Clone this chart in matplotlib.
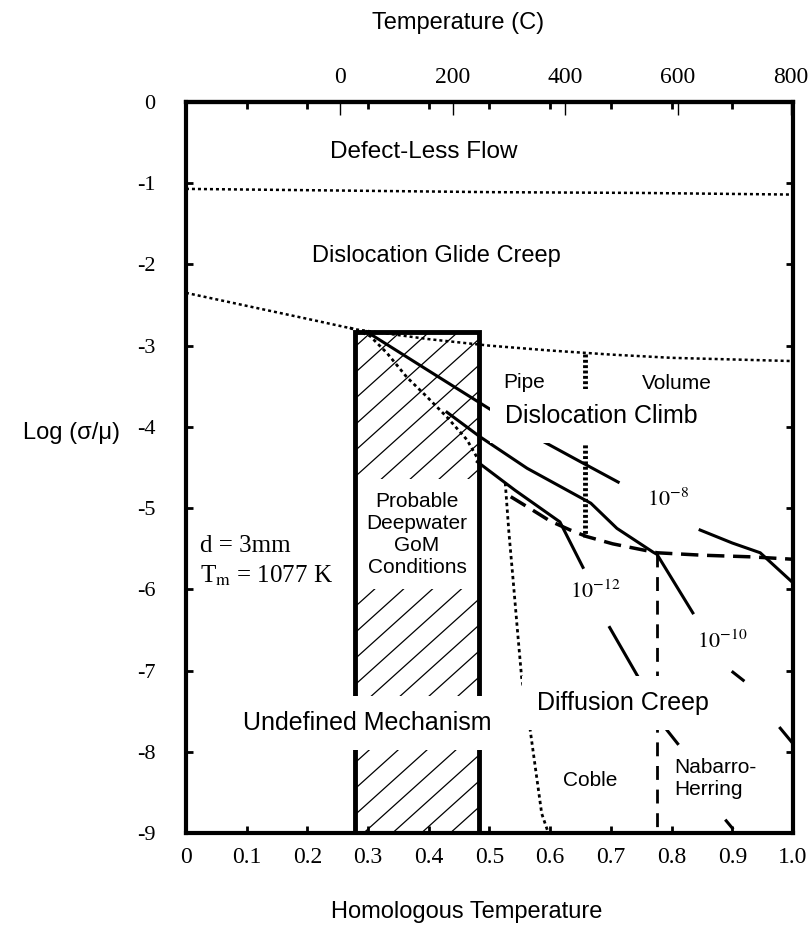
import numpy as np
import matplotlib.pyplot as plt
from matplotlib.patches import Rectangle

plt.rcParams['mathtext.fontset'] = 'stix'
SANS = 'Liberation Sans'
SERIF = 'Liberation Serif'
nan = np.nan

# field boundaries (homologous temperature, log normalised stress)
defect_x = [0.0, 0.25, 0.5, 0.75, 1.0]
defect_y = [-1.07, -1.09, -1.11, -1.12, -1.14]

glide_x = [0.0, 0.1, 0.2, 0.28, 0.4, 0.5, 0.6, 0.7, 0.8, 0.9, 1.0]
glide_y = [-2.35, -2.51, -2.67, -2.80, -2.92, -3.00, -3.06, -3.11, -3.15, -3.17, -3.19]

pipe_x = [0.657, 0.657]
pipe_y = [-3.10, -5.35]

climb_x = [0.535, 0.57, 0.60, 0.633, 0.66, 0.703, 0.736, 0.776, 0.85, 0.93, 1.0]
climb_y = [-4.86, -5.02, -5.16, -5.27, -5.35, -5.44, -5.49, -5.55, -5.58, -5.60, -5.63]

nh_x = [0.776, 0.776]
nh_y = [-5.55, -8.95]

coble_x = [0.526, 0.532, 0.539, 0.546, 0.553, 0.567, 0.586, 0.597]
coble_y = [-4.69, -5.30, -5.89, -6.50, -7.09, -7.73, -8.76, -9.0]

# strain-rate contours (1/s)
rate8_x = [0.298, 0.40, 0.496, 0.55, 0.591, 0.65, 0.712, nan, 0.847, 0.90, 0.946, 1.0]
rate8_y = [-2.83, -3.31, -3.76, -4.01, -4.19, -4.43, -4.68, nan, -5.27, -5.43, -5.55, -5.92]

rate10_x = [0.43, 0.484, 0.562, 0.667, 0.71, 0.769, 0.776, 0.835, nan, 0.901, 0.918, nan, 0.979, 1.0]
rate10_y = [-3.82, -4.12, -4.51, -4.94, -5.25, -5.54, -5.57, -6.29, nan, -7.02, -7.12, nan, -7.71, -7.90]

rate12_box_x = [0.27, 0.303, 0.331, 0.364, 0.397, 0.43, 0.463, 0.479]
rate12_box_y = [-2.78, -2.88, -3.09, -3.39, -3.63, -3.88, -4.16, -4.37]

rate12_x = [0.48, 0.542, 0.616, 0.654, nan, 0.698, 0.748, 0.792, 0.81, nan, 0.89, 0.90]
rate12_y = [-4.43, -4.78, -5.17, -5.73, nan, -6.47, -7.12, -7.73, -7.90, nan, -8.85, -8.94]

# deepwater GoM window
gom_x = (0.278, 0.483)
gom_top = -2.83

xticks = [0, 0.1, 0.2, 0.3, 0.4, 0.5, 0.6, 0.7, 0.8, 0.9, 1.0]
xtick_labels = ['0', '0.1', '0.2', '0.3', '0.4', '0.5', '0.6', '0.7', '0.8', '0.9', '1.0']
yticks = [0, -1, -2, -3, -4, -5, -6, -7, -8, -9]
ytick_labels = ['0', '-1', '-2', '-3', '-4', '-5', '-6', '-7', '-8', '-9']
temp_ticks = [0, 200, 400, 600, 800]
Tm = 1077

axpos = [0.2293, 0.1072, 0.7485, 0.7835]
fig = plt.figure(figsize=(8.11, 9.33), dpi=100)
ax = fig.add_axes(axpos)
ax.set_xlim(0, 1)
ax.set_ylim(-9, 0)

dot = (0, (1.2, 1.2))
ax.plot(defect_x, defect_y, color='k', lw=1.8, ls=dot, zorder=4)
ax.plot(glide_x, glide_y, color='k', lw=1.8, ls=dot, zorder=4)
ax.plot(pipe_x, pipe_y, color='k', lw=3.5, ls=(0, (0.6, 0.5)), zorder=4)
ax.plot(climb_x, climb_y, color='k', lw=2.5, ls=(0, (5, 2.5)), zorder=4)
ax.plot(nh_x, nh_y, color='k', lw=2.0, ls=(0, (5, 3.5)), zorder=4)
ax.plot(coble_x, coble_y, color='k', lw=2.0, ls=dot, zorder=4)

for cx, cy in [(rate8_x, rate8_y), (rate10_x, rate10_y), (rate12_x, rate12_y)]:
    ax.plot(cx, cy, color='k', lw=2.2, zorder=4)
ax.plot(rate12_box_x, rate12_box_y, color='k', lw=2.0, ls=dot, zorder=4)

# hatched window, hatch lines clipped to the box
w_px = fig.get_figwidth() * fig.dpi * axpos[2]
h_px = fig.get_figheight() * fig.dpi * axpos[3] / 9.0
bw = gom_x[1] - gom_x[0]
clip = Rectangle((gom_x[0], -9), bw, gom_top + 9, fc='none', ec='none')
ax.add_patch(clip)
slope = np.tan(np.radians(42)) * w_px / h_px
for c in np.arange(-9 - slope * bw, gom_top, 26 / h_px):
    ln, = ax.plot([gom_x[0], gom_x[1]], [c, c + slope * bw], color='k', lw=0.9, zorder=1.5)
    ln.set_clip_path(clip)
ax.add_patch(Rectangle((gom_x[0], -9), bw, gom_top + 9, fill=False, ec='k', lw=3.5, zorder=3))

ax.text(sum(gom_x) / 2, -5.32, 'Probable\nDeepwater\nGoM\nConditions', fontfamily=SANS,
        fontsize=15, ha='center', va='center', linespacing=1.2, zorder=2.5,
        bbox=dict(fc='white', ec='none', boxstyle='square,pad=0.6'))

box = dict(fc='white', ec='none', boxstyle='square,pad=0.6')
big = dict(fontfamily=SANS, fontsize=18, ha='left', va='center')
small = dict(fontfamily=SANS, fontsize=15, ha='left', va='center', zorder=7)
ax.text(0.237, -0.62, 'Defect-Less Flow', fontfamily=SANS, fontsize=17.5, ha='left', va='center')
ax.text(0.208, -1.90, 'Dislocation Glide Creep', fontfamily=SANS, fontsize=17, ha='left', va='center')
ax.text(0.526, -3.87, 'Dislocation Climb', zorder=6, bbox=box, **big)
ax.text(0.578, -7.40, 'Diffusion Creep', zorder=6, bbox=box, **big)
ax.text(0.094, -7.65, 'Undefined Mechanism', zorder=6, bbox=box, **big)
ax.text(0.522, -3.45, 'Pipe', **small)
ax.text(0.751, -3.47, 'Volume', **small)
ax.text(0.621, -8.35, 'Coble', **small)
ax.text(0.804, -8.33, 'Nabarro-\nHerring', linespacing=1.2, **small)

rate = dict(fontfamily=SERIF, fontsize=16, ha='left', va='center')
ax.text(0.759, -4.90, r'$10^{-8}$', **rate)
ax.text(0.633, -6.03, r'$10^{-12}$', **rate)
ax.text(0.842, -6.64, r'$10^{-10}$', **rate)
ax.text(0.023, -5.47, 'd = 3mm', fontfamily=SERIF, fontsize=18, ha='left', va='center')
ax.text(0.023, -5.84, r'T$_\mathrm{m}$ = %d K' % Tm, fontfamily=SERIF, fontsize=18, ha='left', va='center')

ax.set_xticks(xticks, xtick_labels)
ax.set_yticks(yticks, ytick_labels)
ax.tick_params(direction='in', length=5, width=2, top=True, right=True,
               labelsize=16, labelfontfamily=SERIF)
ax.tick_params(axis='x', pad=10, labelsize=17)
ax.tick_params(axis='y', pad=22)
for s in ax.spines.values():
    s.set_linewidth(3)

secax = ax.secondary_xaxis('top', functions=(lambda h: h * Tm - 273, lambda c: (c + 273) / Tm))
secax.set_xticks(temp_ticks)
secax.tick_params(direction='in', length=9, width=1, labelsize=17, labelfontfamily=SERIF, pad=10)
secax.spines['top'].set_linewidth(3)
fig.text(458 / 811, 1 - 23 / 933, 'Temperature (C)', fontfamily=SANS, fontsize=17,
         ha='center', va='center')

ax.set_xlabel('Homologous Temperature', fontfamily=SANS, fontsize=17, va='center')
ax.xaxis.set_label_coords(0.463, -0.108)
ax.set_ylabel('Log (σ/μ)', rotation=0, fontfamily=SANS, fontsize=17, ha='center', va='center')
ax.yaxis.set_label_coords(-0.188, 0.547)

plt.savefig('out.png', dpi=100)
